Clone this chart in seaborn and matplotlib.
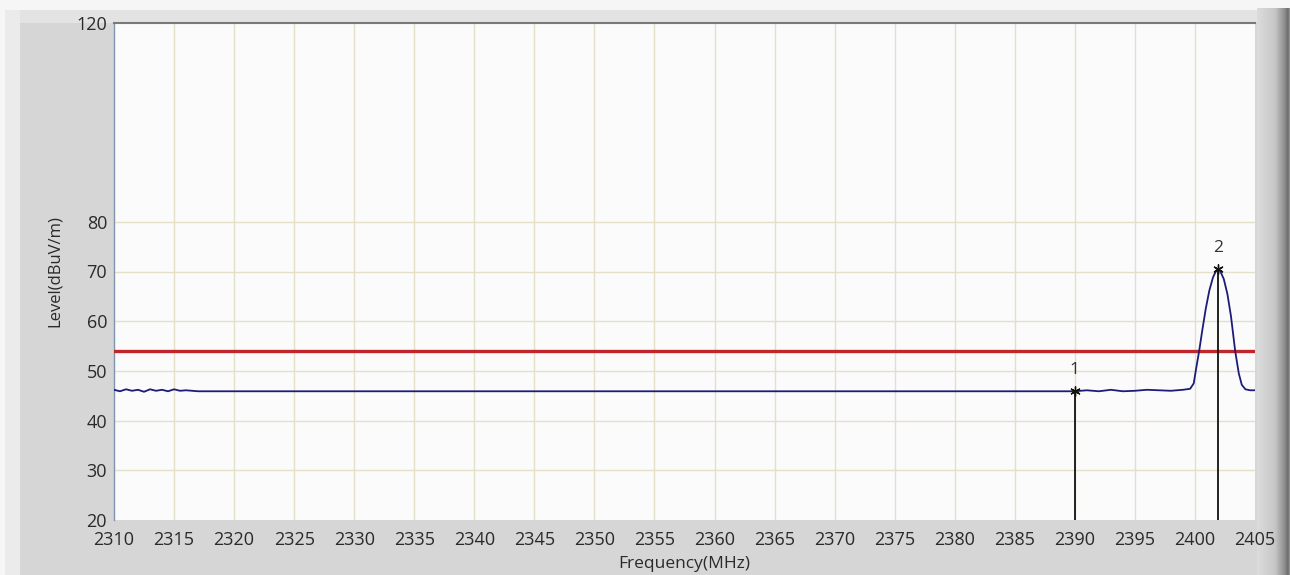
import numpy as np
import pandas as pd
import matplotlib
matplotlib.use("Agg")
import matplotlib.pyplot as plt
from matplotlib.patches import Rectangle
import seaborn as sns

# ---- data ----
freq = [2310, 2310.5, 2311, 2311.5, 2312, 2312.5, 2313, 2313.5, 2314, 2314.5,
        2315, 2315.5, 2316, 2317, 2330, 2350, 2370, 2385, 2390, 2391, 2392,
        2393, 2394, 2395, 2396, 2397, 2398, 2399, 2399.6, 2399.9, 2400.1,
        2400.35, 2400.6, 2400.9, 2401.2, 2401.5, 2401.75, 2401.92, 2402.1,
        2402.4, 2402.7, 2403.0, 2403.35, 2403.65, 2403.9, 2404.2, 2404.6, 2405]
level = [46.2, 45.9, 46.3, 46.0, 46.2, 45.8, 46.3, 46.0, 46.2, 45.9,
         46.3, 46.0, 46.1, 45.9, 45.9, 45.9, 45.9, 45.9, 45.9, 46.1, 45.9,
         46.2, 45.9, 46.0, 46.2, 46.1, 46.0, 46.2, 46.4, 47.5, 50.5,
         54.0, 58.0, 62.5, 66.2, 68.8, 70.1, 70.5, 70.1,
         68.5, 65.5, 61.0, 54.0, 49.5, 47.2, 46.3, 46.1, 46.1]
limit_level = 54.0
marker_labels = ["1", "2"]
marker_freq = [2390.0, 2401.92]
marker_level = [45.9, 70.5]
x_ticks = list(range(2310, 2406, 5))
y_ticks = [20, 30, 40, 50, 60, 70, 80, 120]
y_grid = [30, 40, 50, 60, 70, 80]

df = pd.DataFrame({"Frequency": freq, "Level": level})

sns.set_style("white")
plt.rcParams["font.family"] = ["Open Sans", "DejaVu Sans"]

W, H = 1290, 575
fig = plt.figure(figsize=(W / 100, H / 100), dpi=100)
fig.patch.set_facecolor("#d6d6d6")

def px_rect(x0, y0, x1, y1, color, z=0):
    fig.add_artist(Rectangle((x0 / W, 1 - y1 / H), (x1 - x0) / W, (y1 - y0) / H,
                             transform=fig.transFigure, facecolor=color,
                             edgecolor="none", zorder=z))

# window chrome
px_rect(0, 0, W, 10, "#f6f6f6")
px_rect(20, 10, W, 23, "#e3e3e3")
px_rect(0, 0, 5, H, "#f6f6f6")
px_rect(5, 10, 20, H, "#ebebeb")

# right-side gradient bar
gax = fig.add_axes([1257 / W, 0, (W - 1257) / W, 1 - 8 / H])
grad = np.linspace(0, 1, 64)
cols = np.interp(grad, [0, 0.55, 0.85, 0.95, 1.0], [0.86, 0.78, 0.55, 0.42, 0.6])
gax.imshow(np.tile(cols, (2, 1)), cmap="gray", vmin=0, vmax=1, aspect="auto",
           extent=[0, 1, 0, 1])
gax.set_axis_off()

ax = fig.add_axes([114 / W, 1 - 520 / H, (1255 - 114) / W, (520 - 23) / H])
ax.set_facecolor("#fbfbfb")

for xv in x_ticks[1:-1]:
    ax.axvline(xv, color="#e4e0c8", lw=1.0, zorder=1)
for yv in y_grid:
    ax.axhline(yv, color="#e4e0c8", lw=1.0, zorder=1)

ax.axhline(limit_level, color="#c0272b", lw=2.4, zorder=3)

sns.lineplot(data=df, x="Frequency", y="Level", ax=ax, color="#1c1c78",
             lw=1.3, zorder=4, estimator=None, sort=False)

for lab, fx, fy in zip(marker_labels, marker_freq, marker_level):
    ax.vlines(fx, 20, fy, color="#111111", lw=1.3, zorder=5)
    ax.scatter([fx], [fy], marker=(6, 2, 0), s=45, color="#111111", lw=1.0, zorder=6)
    ax.text(fx, fy + 2.6, lab, ha="center", va="bottom", fontsize=12.5,
            color="#333333", zorder=6)

ax.set_xlim(2310, 2405)
ax.set_ylim(20, 120)
ax.set_xticks(x_ticks)
ax.set_yticks(y_ticks)
ax.tick_params(axis="both", length=0, labelsize=13, colors="#2a2a2a")
ax.tick_params(axis="x", pad=8)
ax.tick_params(axis="y", pad=5)
ax.set_xlabel("Frequency(MHz)", fontsize=12.5, color="#2a2a2a", labelpad=5)
ax.set_ylabel("Level(dBuV/m)", fontsize=12, color="#2a2a2a", labelpad=10)

for s in ["right", "bottom"]:
    ax.spines[s].set_visible(False)
ax.spines["top"].set_color("#7a7a7a")
ax.spines["top"].set_linewidth(1.5)
ax.spines["left"].set_color("#7f95b0")
ax.spines["left"].set_linewidth(1.0)

fig.savefig("out.png", dpi=100, facecolor=fig.get_facecolor())
